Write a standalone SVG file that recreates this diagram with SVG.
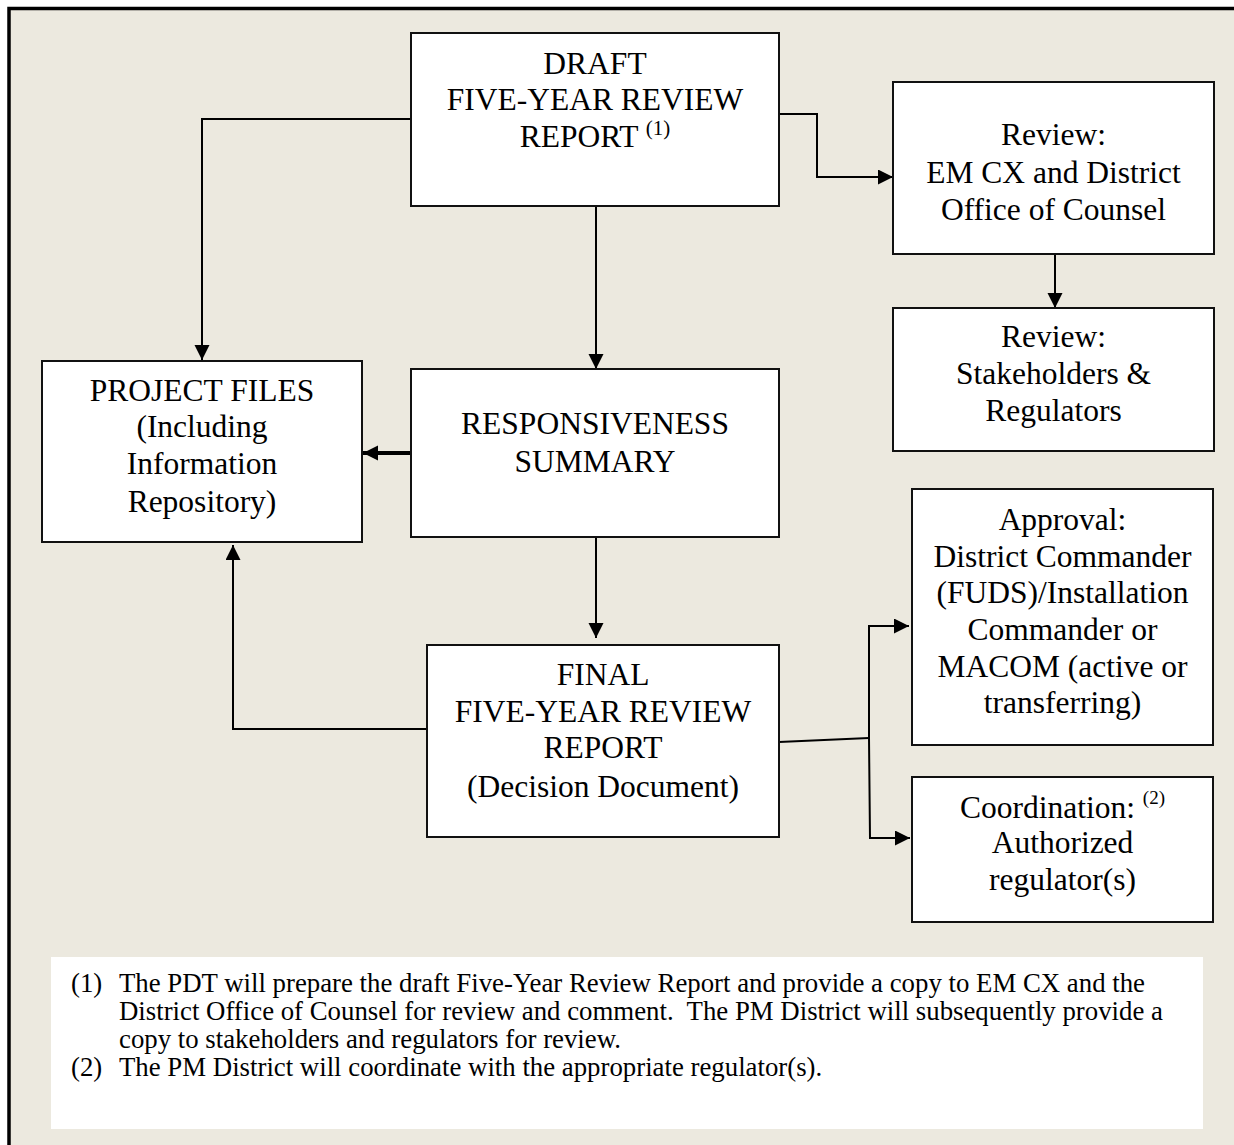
<svg xmlns="http://www.w3.org/2000/svg" width="1234" height="1145" viewBox="0 0 1234 1145">
<style>
.box{fill:#fff;stroke:#111;stroke-width:2}
.t{font-family:"Liberation Serif","Times New Roman",serif;font-size:31.5px;fill:#000;text-anchor:middle}
.sup{font-size:21px}
.fn{font-family:"Liberation Serif","Times New Roman",serif;font-size:26.8px;fill:#000}
.ln{fill:none;stroke:#000;stroke-width:2}
.ar{marker-end:url(#ah)}
</style>
<defs>
<marker id="ah" markerUnits="userSpaceOnUse" markerWidth="16" markerHeight="16" refX="15" refY="7.5" orient="auto">
<path d="M0,0 L15,7.5 L0,15 z" fill="#000"/>
</marker>
</defs>
<rect x="0" y="0" width="1234" height="1145" fill="#fff"/>
<rect x="9" y="8.5" width="1240" height="1150" fill="#ECE9DF" stroke="#000" stroke-width="3.5"/>

<g id="connectors">
<polyline class="ln ar" points="411,119 202,119 202,360"/>
<polyline class="ln ar" points="779,114 817,114 817,177 893,177"/>
<line class="ln ar" x1="1055" y1="254" x2="1055" y2="308"/>
<line class="ln ar" x1="596" y1="206" x2="596" y2="369"/>
<line class="ln ar" x1="411" y1="453" x2="363" y2="453" style="stroke-width:4"/>
<line class="ln ar" x1="596" y1="537" x2="596" y2="638"/>
<polyline class="ln ar" points="427,729 233,729 233,545"/>
<polyline class="ln" points="779,742 869,738"/>
<polyline class="ln ar" points="869,738 869,626 909,626"/>
<polyline class="ln ar" points="869,738 870,838 910,838"/>
</g>

<g id="draft">
<rect class="box" x="411" y="33" width="368" height="173"/>
<text class="t" x="595" y="74">DRAFT</text>
<text class="t" x="595" y="110">FIVE-YEAR REVIEW</text>
<text class="t" x="595" y="147">REPORT <tspan class="sup" dy="-12">(1)</tspan></text>
</g>

<g id="review-emcx">
<rect class="box" x="893" y="82" width="321" height="172"/>
<text class="t" x="1053.5" y="145">Review:</text>
<text class="t" x="1053.5" y="183">EM CX and District</text>
<text class="t" x="1053.5" y="220">Office of Counsel</text>
</g>

<g id="review-stakeholders">
<rect class="box" x="893" y="308" width="321" height="143"/>
<text class="t" x="1053.5" y="347">Review:</text>
<text class="t" x="1053.5" y="384">Stakeholders &amp;</text>
<text class="t" x="1053.5" y="421">Regulators</text>
</g>

<g id="project-files">
<rect class="box" x="42" y="361" width="320" height="181"/>
<text class="t" x="202" y="401">PROJECT FILES</text>
<text class="t" x="202" y="437">(Including</text>
<text class="t" x="202" y="474">Information</text>
<text class="t" x="202" y="512">Repository)</text>
</g>

<g id="responsiveness">
<rect class="box" x="411" y="369" width="368" height="168"/>
<text class="t" x="595" y="434">RESPONSIVENESS</text>
<text class="t" x="595" y="472">SUMMARY</text>
</g>

<g id="final">
<rect class="box" x="427" y="645" width="352" height="192"/>
<text class="t" x="603" y="685">FINAL</text>
<text class="t" x="603" y="722">FIVE-YEAR REVIEW</text>
<text class="t" x="603" y="758">REPORT</text>
<text class="t" x="603" y="797">(Decision Document)</text>
</g>

<g id="approval">
<rect class="box" x="912" y="489" width="301" height="256"/>
<text class="t" x="1062.5" y="530">Approval:</text>
<text class="t" x="1062.5" y="567">District Commander</text>
<text class="t" x="1062.5" y="603">(FUDS)/Installation</text>
<text class="t" x="1062.5" y="640">Commander or</text>
<text class="t" x="1062.5" y="677">MACOM (active or</text>
<text class="t" x="1062.5" y="713">transferring)</text>
</g>

<g id="coordination">
<rect class="box" x="912" y="777" width="301" height="145"/>
<text class="t" x="1062.5" y="818">Coordination: <tspan class="sup" style="font-size:19px" dy="-14">(2)</tspan></text>
<text class="t" x="1062.5" y="853">Authorized</text>
<text class="t" x="1062.5" y="890">regulator(s)</text>
</g>

<g id="footnotes">
<rect x="51" y="957" width="1152" height="172" fill="#fff"/>
<text class="fn" x="71" y="992">(1)</text>
<text class="fn" x="119" y="992">The PDT will prepare the draft Five-Year Review Report and provide a copy to EM CX and the</text>
<text class="fn" x="119" y="1020">District Office of Counsel for review and comment.&#160; The PM District will subsequently provide a</text>
<text class="fn" x="119" y="1048">copy to stakeholders and regulators for review.</text>
<text class="fn" x="71" y="1076">(2)</text>
<text class="fn" x="119" y="1076">The PM District will coordinate with the appropriate regulator(s).</text>
</g>
</svg>
